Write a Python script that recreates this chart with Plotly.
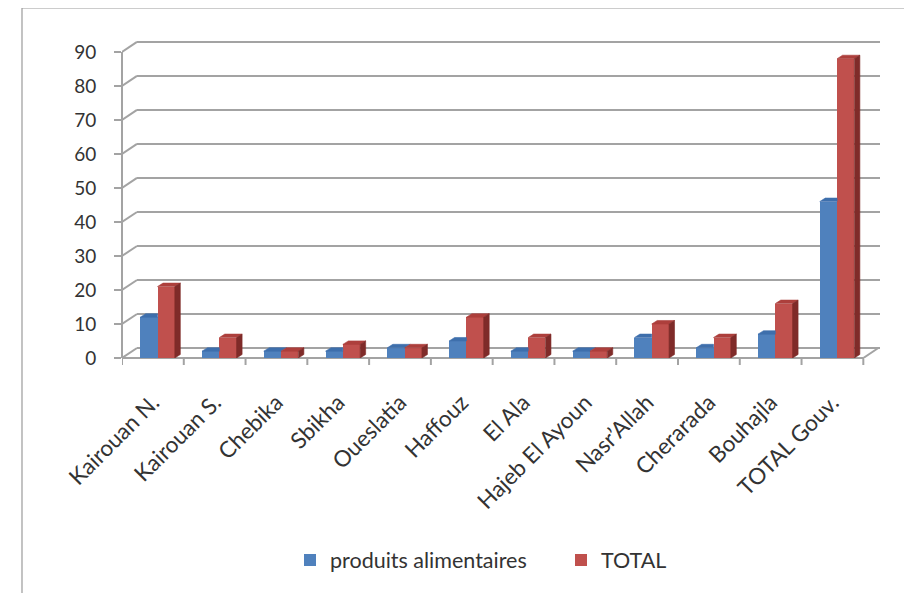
import plotly.graph_objects as go

# ---------------- data ----------------
categories = ["Kairouan N.", "Kairouan S.", "Chebika", "Sbikha", "Oueslatia", "Haffouz",
              "El Ala", "Hajeb El Ayoun", "Nasr\u2019Allah", "Cherarada", "Bouhajla", "TOTAL Gouv."]
produits_alimentaires = [12, 2, 2, 2, 3, 5, 2, 2, 6, 3, 7, 46]
total = [21, 6, 2, 4, 3, 12, 6, 2, 10, 6, 16, 88]
y_ticks = [0, 10, 20, 30, 40, 50, 60, 70, 80, 90]
series_names = ["produits alimentaires", "TOTAL"]

# ---------------- geometry / style ----------------
# the page body adds an 8px margin, so the figure is laid out 8px smaller
OFF = 8
W, H = 912 - OFF, 593 - OFF
ML, MR, MT, MB = 122 - OFF, 32, 40 - OFF, 235
PW, PH = W - ML - MR, H - MT - MB
X_RANGE = [-0.5, 11.77]
Y_RANGE = [0, 93.5]
px_x = PW / (X_RANGE[1] - X_RANGE[0])
px_y = PH / (Y_RANGE[1] - Y_RANGE[0])

WALL_DX = 15 / px_x
WALL_DY = 10 / px_y
BAR_DX = 5.5 / px_x
BAR_DY = 3.5 / px_y
BAR_W = 0.28
BLUE_OFF = -0.065

BLUE, BLUE_TOP = "#4f81bd", "#3e6fac"
RED, RED_TOP, RED_SIDE = "#c0504d", "#ad3f3c", "#7f2b29"
GRID = "#a3a3a3"
TXT = "#333333"
FONT = "Lato, Carlito, Calibri, sans-serif"


def px2paper_x(px):  # page pixel -> paper
    return (px - OFF - ML) / PW


def px2paper_y(py):
    return (H - MB - (py - OFF)) / PH


def poly(xs, ys, color):
    return go.Scatter(x=xs + [xs[0]], y=ys + [ys[0]], fill="toself", fillcolor=color,
                      mode="lines", line=dict(width=0.6, color=color),
                      hoverinfo="skip", showlegend=False)


n = len(categories)
xb = [i + BLUE_OFF for i in range(n)]
xr = [i + BLUE_OFF + BAR_W for i in range(n)]

fig = go.Figure()
fig.add_trace(go.Bar(x=xb, y=produits_alimentaires, width=BAR_W, name=series_names[0],
                     marker=dict(color=BLUE, line=dict(width=0))))
fig.add_trace(go.Bar(x=xr, y=total, width=BAR_W, name=series_names[1],
                     marker=dict(color=RED, line=dict(width=0))))

# pseudo-3D faces
for i in range(n):
    vb, vr = produits_alimentaires[i], total[i]
    bl, br = xb[i] - BAR_W / 2, xb[i] + BAR_W / 2
    rl, rr = xr[i] - BAR_W / 2, xr[i] + BAR_W / 2
    if vr >= vb + BAR_DY:
        fig.add_trace(poly([bl, bl + BAR_DX, br, br], [vb, vb + BAR_DY, vb + BAR_DY, vb], BLUE_TOP))
    else:
        fig.add_trace(poly([bl, bl + BAR_DX, br + BAR_DX, br], [vb, vb + BAR_DY, vb + BAR_DY, vb], BLUE_TOP))
    fig.add_trace(poly([rl, rl + BAR_DX, rr + BAR_DX, rr], [vr, vr + BAR_DY, vr + BAR_DY, vr], RED_TOP))
    fig.add_trace(poly([rr, rr + BAR_DX, rr + BAR_DX, rr], [0, BAR_DY, vr + BAR_DY, vr], RED_SIDE))

shapes = []
# back-wall gridlines with slanted connectors
for v in y_ticks:
    shapes.append(dict(type="line", xref="x", yref="y", layer="below",
                       x0=X_RANGE[0] + WALL_DX, x1=X_RANGE[1], y0=v + WALL_DY, y1=v + WALL_DY,
                       line=dict(color=GRID, width=2)))
    shapes.append(dict(type="line", xref="x", yref="y", layer="below",
                       x0=X_RANGE[0], x1=X_RANGE[0] + WALL_DX, y0=v, y1=v + WALL_DY,
                       line=dict(color=GRID, width=2)))
# front floor edge and right corner
shapes.append(dict(type="line", xref="x", yref="paper", x0=X_RANGE[0], x1=n - 0.5, y0=0, y1=0,
                   line=dict(color=GRID, width=2), layer="below"))
shapes.append(dict(type="line", xref="x", yref="y", x0=n - 0.5, x1=n - 0.5 + WALL_DX, y0=0, y1=WALL_DY,
                   line=dict(color=GRID, width=2), layer="below"))
# y axis line
shapes.append(dict(type="line", xref="paper", yref="y", x0=0, x1=0, y0=y_ticks[0], y1=y_ticks[-1],
                   line=dict(color=GRID, width=2)))
# category boundary ticks
for k in range(n + 1):
    shapes.append(dict(type="line", xref="x", yref="paper", x0=k - 0.5, x1=k - 0.5,
                       y0=0, y1=-7 / PH, line=dict(color=GRID, width=2)))
# outer frame (left and top)
shapes.append(dict(type="line", xref="paper", yref="paper", x0=px2paper_x(22), x1=px2paper_x(22),
                   y0=px2paper_y(8), y1=px2paper_y(600), line=dict(color="#9a9a9a", width=1.2)))
shapes.append(dict(type="line", xref="paper", yref="paper", x0=px2paper_x(22), x1=px2paper_x(920),
                   y0=px2paper_y(8), y1=px2paper_y(8), line=dict(color="#9a9a9a", width=1.2)))

fig.update_layout(
    width=W, height=H,
    margin=dict(l=ML, r=MR, t=MT, b=MB, pad=0),
    paper_bgcolor="white", plot_bgcolor="white",
    barmode="overlay", bargap=0,
    font=dict(family=FONT, size=19, color=TXT),
    shapes=shapes,
    showlegend=True,
    legend=dict(orientation="h", x=px2paper_x(290), xanchor="left",
                y=px2paper_y(560), yanchor="middle",
                font=dict(family=FONT, size=21.5, color=TXT), itemwidth=30,
                entrywidth=226, entrywidthmode="pixels",
                traceorder="normal", bgcolor="rgba(0,0,0,0)"),
    xaxis=dict(range=X_RANGE, tickmode="array", tickvals=list(range(n)), ticktext=categories,
               tickangle=-45, ticks="", showgrid=False, zeroline=False, showline=False,
               tickfont=dict(family=FONT, size=22.5, color=TXT), ticklabelstandoff=26),
    yaxis=dict(range=Y_RANGE, tickmode="array", tickvals=y_ticks, ticks="outside", ticklen=7,
               tickwidth=2, tickcolor=GRID, showgrid=False, zeroline=False, showline=False,
               tickfont=dict(family=FONT, size=19, color=TXT), ticklabelstandoff=14),
)

fig.write_html("out.html")
